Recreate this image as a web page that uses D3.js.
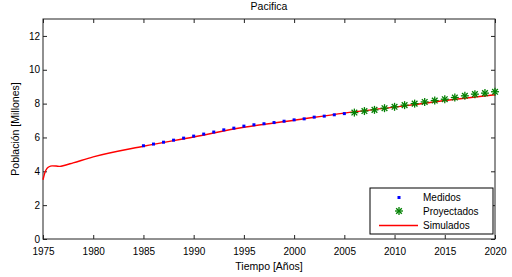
<!DOCTYPE html>
<html>
<head>
<meta charset="utf-8">
<script src="https://cdn.jsdelivr.net/npm/d3@7"></script>
<style>
  body { margin: 0; background: #fff; }
  svg { font-family: "Liberation Sans", Arial, sans-serif; }
</style>
</head>
<body>
<div id="chart"></div>
<script>

// measured population (millions)
var medidosYears = [1985, 1986, 1987, 1988, 1989, 1990, 1991, 1992, 1993, 1994, 1995,
	1996, 1997, 1998, 1999, 2000, 2001, 2002, 2003, 2004, 2005];
var medidosValues = [5.51, 5.61, 5.72, 5.84, 5.96, 6.08, 6.20, 6.32, 6.45, 6.55, 6.67,
	6.75, 6.81, 6.88, 6.96, 7.04, 7.10, 7.20, 7.26, 7.34, 7.41];

// projected population
var proyYears = [2006, 2007, 2008, 2009, 2010, 2011, 2012, 2013, 2014, 2015, 2016, 2017, 2018, 2019, 2020];
var proyValues = [7.47, 7.56, 7.63, 7.73, 7.81, 7.91, 8.00, 8.10, 8.18, 8.26, 8.36, 8.46, 8.56, 8.62, 8.70];

// simulated curve
var simYears = [1975, 1975.2, 1975.4, 1975.6, 1975.9, 1976.3, 1976.7, 1977, 1978, 1980, 1985,
	1990, 1995, 2000, 2005, 2010, 2015, 2020];
var simValues = [3.5, 3.95, 4.17, 4.27, 4.32, 4.31, 4.29, 4.33, 4.5, 4.85, 5.48,
	6.03, 6.6, 7.02, 7.44, 7.79, 8.18, 8.52];

var xTicks = [1975, 1980, 1985, 1990, 1995, 2000, 2005, 2010, 2015, 2020];
var yTicks = [0, 2, 4, 6, 8, 10, 12];

var legendLabels = ["Medidos", "Proyectados", "Simulados"];

// dimensions
var margin = {top: 19, right: 17, bottom: 38, left: 43},
	width = 512 - margin.left - margin.right,
	height = 277 - margin.top - margin.bottom;

var svg = d3.select("#chart")
	.append("svg")
	.attr("width", 512)
	.attr("height", 277)
	.append("g")
	.attr("transform", "translate(" + margin.left + "," + margin.top + ")");

var x = d3.scaleLinear().domain([1975, 2020]).range([0, width]);
var y = d3.scaleLinear().domain([0, 13]).range([height, 0]);

// axes with inward ticks (box style)
function styleAxis(g) {
	g.select(".domain").remove();
	g.selectAll(".tick line").attr("stroke", "#222");
	g.selectAll(".tick text").attr("fill", "#000").style("font-size", "10px");
}

svg.append("g")
	.attr("transform", "translate(0," + height + ")")
	.call(d3.axisBottom(x).tickValues(xTicks).tickFormat(d3.format("d")).tickSizeInner(-4).tickSizeOuter(0).tickPadding(9))
	.call(styleAxis);

svg.append("g")
	.call(d3.axisTop(x).tickValues(xTicks).tickFormat("").tickSizeInner(-4).tickSizeOuter(0))
	.call(styleAxis);

svg.append("g")
	.call(d3.axisLeft(y).tickValues(yTicks).tickSizeInner(-4).tickSizeOuter(0).tickPadding(3))
	.call(styleAxis);

svg.append("g")
	.attr("transform", "translate(" + width + ",0)")
	.call(d3.axisRight(y).tickValues(yTicks).tickFormat("").tickSizeInner(-4).tickSizeOuter(0))
	.call(styleAxis);

// box
svg.append("rect")
	.attr("x", 0)
	.attr("y", 0)
	.attr("width", width)
	.attr("height", height)
	.attr("fill", "none")
	.attr("stroke", "#222")
	.attr("stroke-width", 1);

// simulated line
var simData = simYears.map((d, i) => ({year: d, value: simValues[i]}));
var line = d3.line()
	.x(d => x(d.year))
	.y(d => y(d.value))
	.curve(d3.curveMonotoneX);

svg.append("path")
	.datum(simData)
	.attr("fill", "none")
	.attr("stroke", "#ff0000")
	.attr("stroke-width", 1.4)
	.attr("d", line);

// measured points
var medData = medidosYears.map((d, i) => ({year: d, value: medidosValues[i]}));
svg.selectAll("rect.medido")
	.data(medData)
	.join("rect")
	.attr("class", "medido")
	.attr("x", d => x(d.year) - 1.5)
	.attr("y", d => y(d.value) - 1.5)
	.attr("width", 3)
	.attr("height", 3)
	.attr("fill", "#0000ff");

// asterisk marker
function asterisk(g, r) {
	[0, 45, 90, 135].forEach(function(a) {
		var rad = a * Math.PI / 180;
		g.append("line")
			.attr("x1", -r * Math.cos(rad)).attr("y1", -r * Math.sin(rad))
			.attr("x2", r * Math.cos(rad)).attr("y2", r * Math.sin(rad))
			.attr("stroke", "#008000")
			.attr("stroke-width", 1.3);
	});
}

var proyData = proyYears.map((d, i) => ({year: d, value: proyValues[i]}));
svg.selectAll("g.proy")
	.data(proyData)
	.join("g")
	.attr("class", "proy")
	.attr("transform", d => "translate(" + x(d.year) + "," + y(d.value) + ")")
	.each(function() { asterisk(d3.select(this), 4); });

// title and labels
svg.append("text")
	.attr("x", width / 2)
	.attr("y", -9)
	.attr("text-anchor", "middle")
	.style("font-size", "10.5px")
	.text("Pacifica");

svg.append("text")
	.attr("x", width / 2)
	.attr("y", height + 31)
	.attr("text-anchor", "middle")
	.style("font-size", "10.5px")
	.text("Tiempo [Años]");

svg.append("text")
	.attr("transform", "rotate(-90)")
	.attr("x", -height / 2)
	.attr("y", -24)
	.attr("text-anchor", "middle")
	.style("font-size", "10.5px")
	.text("Población [Millones]");

// legend
var lx = 370 - margin.left, ly = 188 - margin.top, lw = 123, lh = 46;
svg.append("rect")
	.attr("x", lx)
	.attr("y", ly)
	.attr("width", lw)
	.attr("height", lh)
	.attr("fill", "#fff")
	.attr("stroke", "#000")
	.attr("stroke-width", 1);

var rowY = [9.5, 23, 37.5];
var markX = lx + 29;

svg.append("rect")
	.attr("x", markX - 1.5)
	.attr("y", ly + rowY[0] - 1.5)
	.attr("width", 3)
	.attr("height", 3)
	.attr("fill", "#0000ff");

asterisk(svg.append("g").attr("transform", "translate(" + markX + "," + (ly + rowY[1]) + ")"), 4);

svg.append("line")
	.attr("x1", lx + 9)
	.attr("x2", lx + 48)
	.attr("y1", ly + rowY[2])
	.attr("y2", ly + rowY[2])
	.attr("stroke", "#ff0000")
	.attr("stroke-width", 1.4);

svg.selectAll("text.legend")
	.data(legendLabels)
	.join("text")
	.attr("class", "legend")
	.attr("x", lx + 53)
	.attr("y", (d, i) => ly + rowY[i] + 3.5)
	.style("font-size", "10px")
	.text(d => d);

</script>
</body>
</html>
